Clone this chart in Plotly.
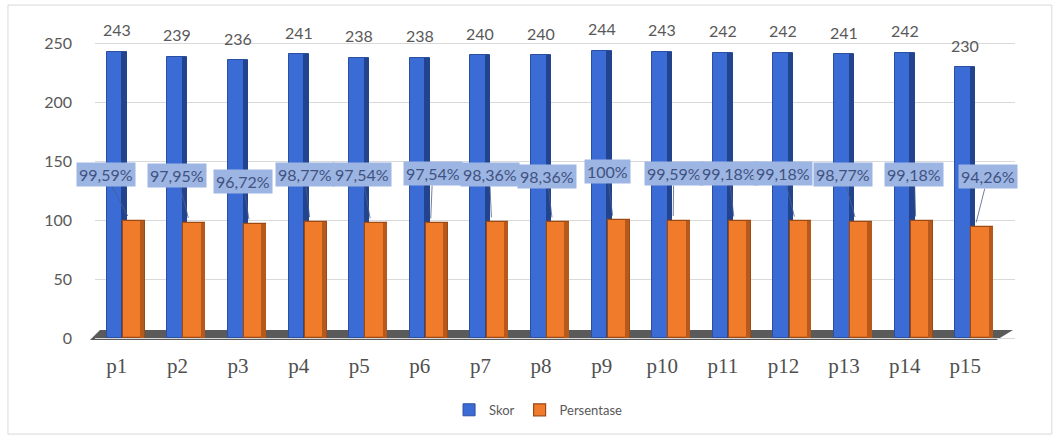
import plotly.graph_objects as go

categories = ["p1", "p2", "p3", "p4", "p5", "p6", "p7", "p8", "p9", "p10", "p11", "p12", "p13", "p14", "p15"]
skor = [243, 239, 236, 241, 238, 238, 240, 240, 244, 243, 242, 242, 241, 242, 230]
persentase = [99.59, 97.95, 96.72, 98.77, 97.54, 97.54, 98.36, 98.36, 100, 99.59, 99.18, 99.18, 98.77, 99.18, 94.26]
persen_labels = ["99,59%", "97,95%", "96,72%", "98,77%", "97,54%", "97,54%", "98,36%", "98,36%", "100%",
                 "99,59%", "99,18%", "99,18%", "98,77%", "99,18%", "94,26%"]
y_ticks = [0, 50, 100, 150, 200, 250]

# label box placement (layout only): horizontal shift from category, vertical position in axis units
box_dx = [-0.18, 0.00, 0.08, 0.10, 0.05, 0.21, 0.15, 0.10, 0.09, 0.19, 0.10, 0.00, -0.02, 0.16, 0.37]
box_y = [138.6, 137.8, 132.7, 138.6, 138.6, 139.5, 138.6, 137.0, 141.2, 139.5, 139.5, 139.5, 138.6, 138.6, 136.9]

xs = list(range(len(categories)))
FONT = "Lato"

fig = go.Figure()

# Skor bars
fig.add_trace(go.Bar(x=xs, y=skor, name="Skor", width=0.33, offset=-0.165,
                     marker=dict(color="#3B6BD4", line=dict(color="#2A4F9E", width=1)),
                     hoverinfo="skip"))
fig.add_trace(go.Bar(x=xs, y=skor, showlegend=False, width=0.09, offset=0.075,
                     marker=dict(color="#22448F", line=dict(width=0)), hoverinfo="skip"))
# Persentase bars
fig.add_trace(go.Bar(x=xs, y=persentase, name="Persentase", width=0.36, offset=0.10,
                     marker=dict(color="#F07B2A", line=dict(color="#9C4A14", width=1.2)),
                     hoverinfo="skip"))
fig.add_trace(go.Bar(x=xs, y=persentase, showlegend=False, width=0.07, offset=0.385,
                     marker=dict(color="#B8591C", line=dict(width=0)), hoverinfo="skip"))

annotations = []
for i, v in enumerate(skor):
    annotations.append(dict(x=i, y=v, text=str(v), showarrow=False, yshift=22, yanchor="middle",
                            font=dict(family=FONT, size=16, color="#595959")))
for i, (v, lab) in enumerate(zip(persentase, persen_labels)):
    annotations.append(dict(x=i + 0.18, y=v + 4, text=lab, showarrow=True,
                            axref="x", ayref="y", ax=i + box_dx[i], ay=box_y[i],
                            arrowhead=0, arrowwidth=0.8, arrowcolor="#4A5E8A", standoff=0,
                            bgcolor="#9DB5E3", borderpad=2,
                            font=dict(family=FONT, size=16, color="#3F5280")))

shapes = [
    # floor band
    dict(type="path", xref="paper", yref="y", layer="below",
         path="M 0.0054,6.8 L 0.9978,6.8 L 0.980,-1.7 L -0.0054,-1.7 Z",
         fillcolor="#5A5A5A", line=dict(width=0)),
    # chart frame
    dict(type="rect", xref="paper", yref="paper", x0=-0.0946, x1=1.040, y0=-0.278, y1=1.046,
         line=dict(color="#D9D9D9", width=1), fillcolor="rgba(0,0,0,0)", layer="below"),
]

fig.update_layout(
    width=1055, height=436,
    margin=dict(l=95, r=40, t=20, b=92),
    paper_bgcolor="white", plot_bgcolor="white",
    barmode="overlay", bargap=0,
    font=dict(family=FONT, color="#595959"),
    annotations=annotations, shapes=shapes,
    showlegend=True,
    legend=dict(orientation="h", xref="container", yref="container", x=0.51, y=0.06,
                xanchor="center", yanchor="middle", font=dict(family=FONT, size=13, color="#595959"),
                traceorder="normal"),
    xaxis=dict(range=[-0.36, 14.82], tickvals=xs, ticktext=categories, showgrid=False, zeroline=False,
               showline=False, ticks="", ticklabelstandoff=7,
               tickfont=dict(family="Liberation Serif", size=21, color="#505050")),
    yaxis=dict(range=[-5, 270], tickvals=y_ticks, showgrid=True, gridcolor="#D9D9D9", gridwidth=1,
               zeroline=False, showline=False, ticks="", ticklabelstandoff=22,
               tickfont=dict(family=FONT, size=16, color="#595959")),
)

fig.write_html("out.html")
